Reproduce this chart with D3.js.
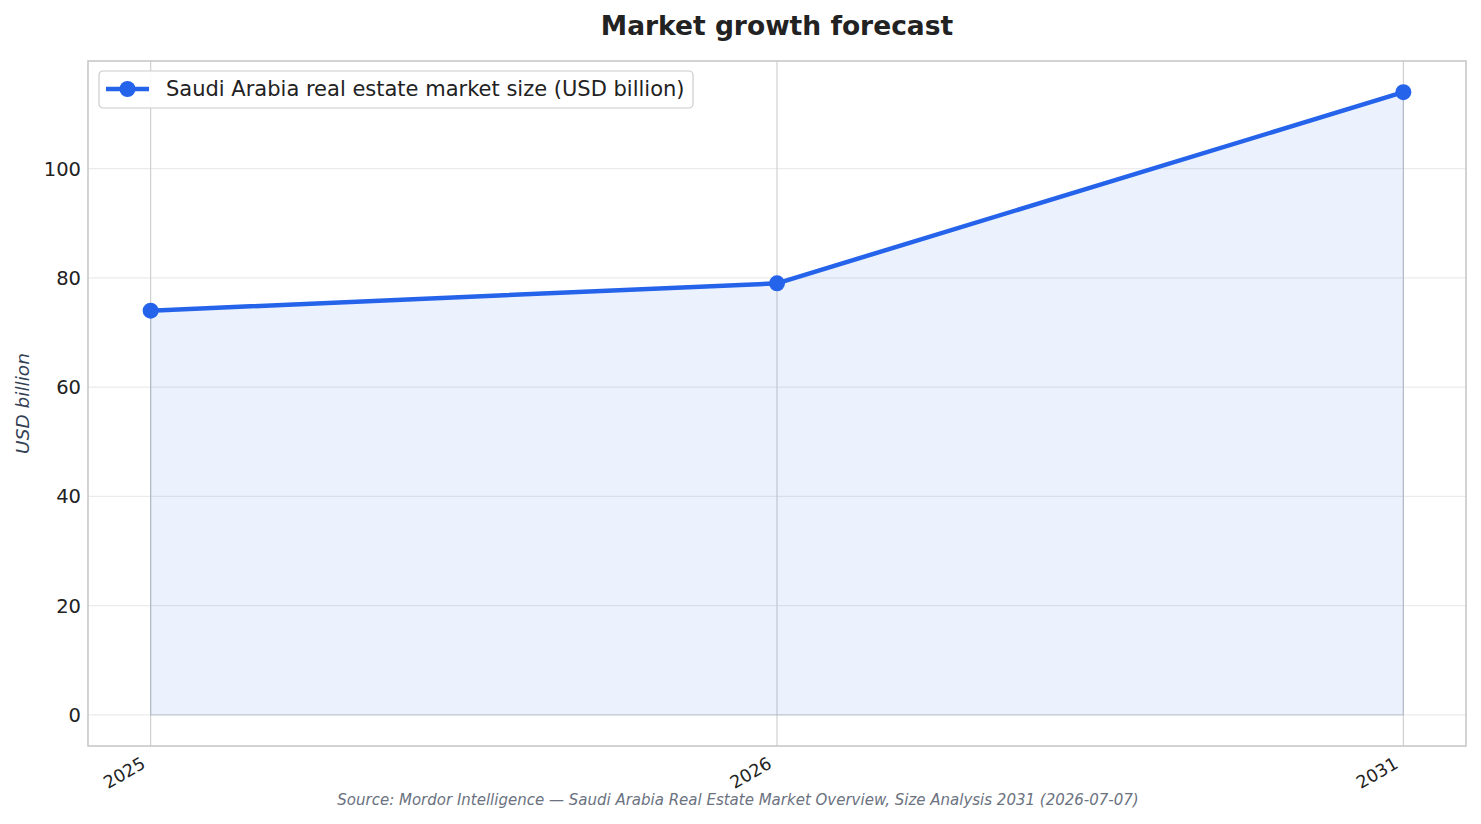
<!DOCTYPE html>
<html>
<head>
<meta charset="utf-8">
<script src="https://cdn.jsdelivr.net/npm/d3@7"></script>
<style>
  body { margin: 0; background: #fff; }
  text { font-family: "DejaVu Sans", sans-serif; }
</style>
</head>
<body>
<svg id="chart"></svg>
<script>
// data
var years = ["2025", "2026", "2031"];
var marketSize = [74, 79, 114];
var yTicks = [0, 20, 40, 60, 80, 100];
var seriesName = "Saudi Arabia real estate market size (USD billion)";

var W = 1481, H = 824;
var m = { left: 88, right: 1466, top: 61, bottom: 746 };
var blue = "#2563eb";

var svg = d3.select("#chart").attr("width", W).attr("height", H);

// categorical x with matplotlib-like 5% margins
var x = d3.scaleLinear().domain([-0.1, years.length - 1 + 0.1]).range([m.left, m.right]);
var y = d3.scaleLinear().domain([-5.7, 119.7]).range([m.bottom, m.top]);

var pts = years.map(function(d, i) { return { i: i, year: d, v: marketSize[i] }; });

// horizontal grid
svg.selectAll(".hgrid").data(yTicks).enter()
  .append("line")
  .attr("x1", m.left).attr("x2", m.right)
  .attr("y1", function(d) { return y(d) }).attr("y2", function(d) { return y(d) })
  .attr("stroke", "#ebebeb").attr("stroke-width", 1.2);

// vertical grid
svg.selectAll(".vgrid").data(pts).enter()
  .append("line")
  .attr("x1", function(d) { return x(d.i) }).attr("x2", function(d) { return x(d.i) })
  .attr("y1", m.top).attr("y2", m.bottom)
  .attr("stroke", "#d0d0d0").attr("stroke-width", 1.2);

// area fill
var area = d3.area()
  .x(function(d) { return x(d.i) })
  .y0(y(0))
  .y1(function(d) { return y(d.v) });

svg.append("path").datum(pts)
  .attr("d", area)
  .attr("fill", blue).attr("fill-opacity", 0.085)
  .attr("stroke", "#94a3b8").attr("stroke-opacity", 0.45).attr("stroke-width", 1.2);

// line
var line = d3.line().x(function(d) { return x(d.i) }).y(function(d) { return y(d.v) });
svg.append("path").datum(pts)
  .attr("d", line)
  .attr("fill", "none").attr("stroke", blue).attr("stroke-width", 4.5)
  .attr("stroke-linejoin", "round");

svg.selectAll(".dot").data(pts).enter()
  .append("circle")
  .attr("cx", function(d) { return x(d.i) }).attr("cy", function(d) { return y(d.v) })
  .attr("r", 8).attr("fill", blue);

// frame
svg.append("rect")
  .attr("x", m.left).attr("y", m.top).attr("width", m.right - m.left).attr("height", m.bottom - m.top)
  .attr("fill", "none").attr("stroke", "#c8c8c8").attr("stroke-width", 1.6);

// y tick labels
svg.selectAll(".ylab").data(yTicks).enter()
  .append("text")
  .attr("x", m.left - 7).attr("y", function(d) { return y(d) })
  .attr("dy", "0.36em").attr("text-anchor", "end")
  .attr("font-size", 19.5).attr("fill", "#222")
  .text(function(d) { return d });

// x tick labels rotated
svg.selectAll(".xlab").data(pts).enter()
  .append("text")
  .attr("transform", function(d) { return "translate(" + (x(d.i) - 4) + "," + (m.bottom + 21) + ") rotate(-30)" })
  .attr("text-anchor", "end")
  .attr("font-size", 17.5).attr("fill", "#222")
  .text(function(d) { return d.year });

// title
svg.append("text")
  .attr("x", (m.left + m.right) / 2).attr("y", 35)
  .attr("text-anchor", "middle").attr("font-size", 26.5).attr("font-weight", "bold")
  .attr("fill", "#222")
  .text("Market growth forecast");

// y axis label
svg.append("text")
  .attr("transform", "translate(29," + ((m.top + m.bottom) / 2) + ") rotate(-90)")
  .attr("text-anchor", "middle").attr("font-size", 18.5).attr("font-style", "italic")
  .attr("fill", "#334155")
  .text("USD billion");

// source
svg.append("text")
  .attr("x", 738).attr("y", 805)
  .attr("text-anchor", "middle").attr("font-size", 15).attr("font-style", "italic")
  .attr("fill", "#6b7280")
  .text("Source: Mordor Intelligence \u2014 Saudi Arabia Real Estate Market Overview, Size Analysis 2031 (2026-07-07)");

// legend
var lg = svg.append("g").attr("transform", "translate(99,71)");
lg.append("rect")
  .attr("width", 594).attr("height", 37).attr("rx", 4)
  .attr("fill", "#fff").attr("fill-opacity", 0.9)
  .attr("stroke", "#cccccc").attr("stroke-width", 1.2);
lg.append("line")
  .attr("x1", 7).attr("x2", 50).attr("y1", 18).attr("y2", 18)
  .attr("stroke", blue).attr("stroke-width", 4.5);
lg.append("circle").attr("cx", 28.5).attr("cy", 18).attr("r", 8).attr("fill", blue);
lg.append("text")
  .attr("x", 67).attr("y", 18).attr("dy", "0.35em")
  .attr("font-size", 21).attr("fill", "#222")
  .text(seriesName);
</script>
</body>
</html>
